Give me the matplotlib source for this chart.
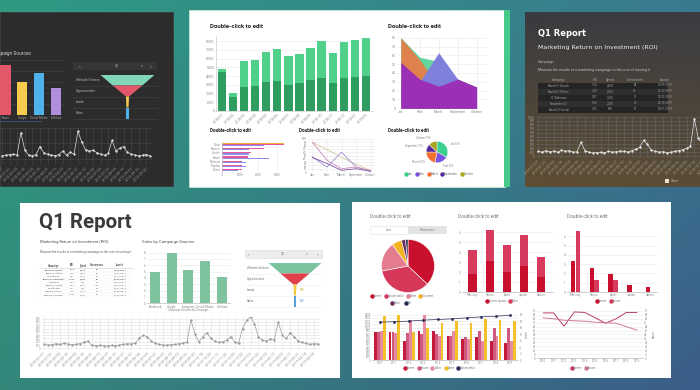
import matplotlib
matplotlib.use("Agg")
import matplotlib.pyplot as plt
from matplotlib.colors import to_rgb
from matplotlib.patches import Rectangle
import numpy as np
import pandas as pd

plt.rcParams["font.family"] = ["Roboto", "DejaVu Sans"]

W, H = 700, 390

# ---- top-left dark dashboard ----
dark_sources = ["Email", "Google", "Social Media", "Affiliate"]
dark_source_sales = [9.1, 6.0, 7.6, 4.9]
funnel_stages = ["Website Visitors", "Opportunities", "Leads", "Sales"]
funnel_counts = [16000, 8600, 900, 600]
dark_visits = [10, 12, 14, 15, 12, 85, 30, 12, 10, 14, 40, 20, 15, 12, 10, 14, 25, 12, 22, 15,
               90, 55, 30, 25, 28, 20, 15, 12, 18, 60, 25, 35, 40, 22, 15, 12, 10, 12, 14, 10]

# ---- top-centre green dashboard ----
rev_months = ["2018-01", "2018-02", "2018-03", "2018-04", "2018-05", "2018-06", "2018-07",
              "2018-08", "2018-09", "2018-10", "2018-11", "2018-12", "2019-01", "2019-02"]
rev_total = [4850, 2080, 5770, 5880, 6800, 7150, 6340, 6580, 7270, 8070, 6690, 7960, 8190, 8420]
rev_base = [4500, 1620, 2770, 2880, 3350, 3460, 3000, 3230, 3580, 3810, 3230, 3810, 3920, 4040]
area_months = ["Jan", "Febr", "March", "September", "October"]
area_green = [80, 58, 53, 33, 24]
area_orange = [80, 55, 25, 33, 24]
area_blue = [30, 30, 63, 33, 24]
area_purple = [52, 33, 25, 33, 24]
hb_cats = ["Total", "Search", "Social", "Email", "Referral", "Display", "Direct"]
hb_orange = [3.4, 0, 0, 0, 0, 0, 0]
hb_pink = [3.4, 2.3, 1.6, 1.4, 1.1, 1.1, 1.1]
hb_blue = [2.3, 1.5, 1.5, 2.6, 1.3, 1.3, 0.9]
ln_months = ["Jan", "Febr", "March", "September", "October"]
ln_tan = [90, 68, 45, 23, 5]
ln_violet = [46, 15, 60, 15, 3]
ln_mauve = [90, 36, 10, 15, 3]
ln_purple = [44, 26, 5, 10, 2]
mini_pie_labels = ["Jan", "Febr", "March", "September", "October"]
mini_pie_share = [33, 20, 22, 12, 13]

# ---- top-right dark report ----
roi_campaigns = ["Brand-Q1-Search", "Brand-Q1-Offline", "Q1-Webinars", "Newsletter-Q1", "Brand-Q1-Social"]
roi_values = ["1.24", "2.35", "0.87", "1.56", "3.02"]
roi_spend = ["4,510", "1,890", "3,200", "2,450", "980"]
roi_conv = ["84", "45", "16", "52", "67"]
roi_launch = ["01/05/2019", "01/12/2019", "02/02/2019", "02/16/2019", "03/01/2019"]
roi_visits = [12, 10, 14, 11, 13, 10, 15, 12, 14, 10, 11, 35, 14, 10, 8, 9, 10, 8, 12, 10, 11, 13,
              12, 10, 14, 18, 22, 40, 30, 15, 12, 10, 11, 9, 10, 12, 14, 16, 20, 25, 95, 45, 30, 22, 20]

# ---- bottom-left white report ----
q1_campaigns = ["Brand-Q1-Search", "Brand-Q1-Offline", "Q1-Webinars", "Brand-Q1-Newsletter", "Q1-Events",
                "Brand-Q1-Digital", "Q1-Affiliates", "Brand-Q1-Social", "Partner-Q1-Display"]
q1_roi = ["1.24", "2.35", "0.87", "18.50", "1.02", "2.64", "3.11", "1.47", "18.20"]
q1_spend = ["4,510", "1,890", "3,200", "2,450", "980", "4,020", "860", "1,730", "2,110"]
q1_conv = ["84", "45", "16", "52", "12", "180", "36", "48", "22"]
q1_launch = ["01/05/2019", "01/12/2019", "01/19/2019", "02/02/2019", "02/09/2019",
             "02/16/2019", "03/01/2019", "03/08/2019", "03/15/2019"]
sales_sources = ["Facebook", "Google", "Instagram", "Social Media", "Affiliate"]
sales_values = [4.9, 7.9, 5.2, 6.6, 4.2]
q1_visits = [12, 10, 11, 14, 12, 15, 13, 11, 12, 14, 18, 22, 10, 8, 9, 8, 7, 9, 8, 10,
             12, 14, 13, 16, 30, 40, 35, 22, 15, 12, 10, 10, 11, 12, 14, 16, 18, 85, 45, 20,
             35, 48, 30, 22, 18, 20, 25, 35, 20, 15, 60, 85, 95, 75, 35, 25, 22, 28, 25, 80,
             40, 30, 48, 35, 22, 18, 15, 12, 14, 13]

# ---- bottom-right red dashboard ----
donut_labels = ["Lorem", "Ipsum dolor", "Amet", "Sit amet", "Dolor", "Elit"]
donut_share = [37, 35, 18, 6, 2.5, 1.5]
stack_cats = ["Mercury", "Venus", "Earth", "Jupiter", "Saturn"]
stack_total = [4.2, 6.3, 4.7, 5.7, 3.5]
stack_base = [1.8, 3.1, 2.0, 2.6, 1.5]
group_cats = ["Mercury", "Venus", "Earth", "Jupiter", "Saturn"]
group_a = [3.3, 2.6, 1.9, 0.8, 0.5]
group_b = [6.6, 1.3, 1.3, 0.0, 0.0]
combo_years = ["2010", "2011", "2012", "2013", "2014", "2015", "2016", "2017", "2018", "2019"]
combo_a = [850, 850, 580, 880, 880, 750, 650, 700, 600, 520]
combo_b = [870, 850, 830, 800, 800, 750, 720, 880, 1000, 980]
combo_c = [900, 830, 1220, 1380, 750, 900, 650, 600, 750, 600]
combo_d = [1350, 1400, 850, 1000, 1150, 1200, 1150, 1280, 1220, 1200]
combo_line = [1170, 1180, 1200, 1230, 1250, 1270, 1300, 1330, 1350, 1380]
trend_years = combo_years
trend_a = [92, 92, 65, 94, 93, 82, 71, 80, 93, 93]
trend_b = [82, 80, 77, 76, 75, 73, 72, 71, 64, 57]

fig = plt.figure(figsize=(7, 3.9), dpi=100)
bg = fig.add_axes([0, 0, 1, 1])
bg.axis("off")
NARROW = ["Liberation Sans Narrow", "DejaVu Sans"]


def gradient(c_tl, c_tr, c_bl, c_br, h, w):
    tl, tr, bl, br = (np.array(to_rgb(c)) for c in (c_tl, c_tr, c_bl, c_br))
    u = np.linspace(0, 1, w)[None, :, None]
    v = np.linspace(0, 1, h)[:, None, None]
    return (tl * (1 - u) + tr * u) * (1 - v) + (bl * (1 - u) + br * u) * v


def sub(x0, y0, x1, y1):
    return fig.add_axes([x0 / W, 1 - y1 / H, (x1 - x0) / W, (y1 - y0) / H])


def style(ax, grid="y", gc="#e8e8e8", tc="#8a8a8a", fs=2.4, base=None):
    ax.set_facecolor("none")
    for s in ax.spines.values():
        s.set_visible(False)
    if base:
        ax.spines["bottom"].set_visible(True)
        ax.spines["bottom"].set_color(base)
        ax.spines["bottom"].set_linewidth(0.5)
    ax.tick_params(length=0, pad=1, labelsize=fs, labelcolor=tc)
    ax.set_axisbelow(True)
    if grid:
        ax.grid(axis=grid, color=gc, lw=0.4)


def txt(x, y, s, fs=2.4, c="#777777", **kw):
    bg.text(x, y, s, fontsize=fs, color=c, va="center", zorder=4, **kw)


def legend_row(x, y, labels, colors, fs=2.3, tc="#777777"):
    for lab, c in zip(labels, colors):
        bg.plot(x, y, "o", ms=2.2, color=c, zorder=4)
        txt(x + 2.2, y, lab, fs, tc)
        x += 6 + len(lab) * fs * 0.72


def funnel(ax, counts, colors):
    half = np.asarray(counts, float) / counts[0] / 2
    nxt = np.append(half[1:], half[-1])
    for i, c in enumerate(colors):
        ax.fill([-half[i], half[i], nxt[i], -nxt[i]], [i, i, i + 1, i + 1], color=c, lw=0)
    ax.set_xlim(-0.5, 0.5)
    ax.set_ylim(len(counts), 0)
    ax.axis("off")


def visits_chart(ax, vals, line_c, grid_c, lab_c, step=2):
    x = np.arange(len(vals))
    dates = pd.date_range("2018-01-07", periods=len(vals), freq="W").strftime("%Y-%m-%d")
    ax.plot(x, vals, color=line_c, lw=0.5, marker="o", ms=0.7)
    ax.set_xticks(x[::step])
    ax.set_xticklabels(dates[::step], rotation=45, ha="right", rotation_mode="anchor",
                       fontsize=2.8, color=lab_c)
    ax.set_xlim(-0.5, len(vals) - 0.5)
    ax.grid(color=grid_c, lw=0.4)


def pie(ax, share, colors, **kw):
    ax.pie(share, colors=colors, startangle=90, counterclock=False, **kw)
    ax.set_xlim(-1.02, 1.02)
    ax.set_ylim(-1.02, 1.02)
    ax.set_aspect("equal")


# background
bg.imshow(gradient("#2f9a82", "#3a7a90", "#33887a", "#3b5e88", 60, 120),
          extent=[0, W, H, 0], aspect="auto", zorder=0)

# ================= panel A: dark dashboard (top-left) =================
bg.add_patch(Rectangle((0, 12), 173, 174, fc="#2c2c2c", ec="#3a3a3a", lw=0.6, zorder=1))
txt(31, 53, "Sales by Campaign Sources", 3.4, "#cfcfcf", ha="right")
ax = sub(-3, 60, 64.2, 115)
xa = np.arange(len(dark_sources))
ax.bar(xa, dark_source_sales, width=0.62, color=["#e4566a", "#f6cc4e", "#4db3ea", "#b28fdc"])
ax.set_xlim(-0.5, 3.5)
ax.set_ylim(0, 10)
ax.set_yticks(range(0, 11, 2))
ax.set_yticklabels([])
ax.set_xticks(xa)
ax.set_xticklabels(dark_sources)
style(ax, gc="#464646", tc="#9a9a9a", fs=2.2)
bg.add_patch(Rectangle((0, 121), 42, 1.2, fc="#3e4f7a", zorder=2))

bg.add_patch(Rectangle((73, 62), 84, 8, fc="#363636", zorder=2))
for xx, s in zip([80, 117, 142, 151], ["<", "Q1", "v", ">"]):
    txt(xx, 66, s, 2.4, "#bbbbbb", ha="center")
for i, s in enumerate(funnel_stages):
    txt(76, 80 + 11 * i, s, 2.3, "#b5b5b5")
    bg.plot([73, 157], [85.5 + 11 * i] * 2, color="#444444", lw=0.4, zorder=2)
ax = sub(100, 74.5, 155, 118.5)
funnel(ax, funnel_counts, ["#80d6b6", "#e4566a", "#f6cc4e", "#4db3ea"])
txt(127.5, 79, f"{funnel_counts[0]}", 2.2, "#2c2c2c", ha="center")

ax = sub(0, 128, 152, 165)
visits_chart(ax, dark_visits, "#dddddd", "#4a4a4a", "#8f8f8f")
ax.set_ylim(-20, 100)
style(ax, grid=None, tc="#8f8f8f", fs=2.8)
ax.grid(color="#4a4a4a", lw=0.4)
ax.set_yticklabels([])

# ================= panel B: green dashboard (top-centre) =================
bg.add_patch(Rectangle((189, 10), 316, 177, fc="white", ec="#bfe8d4", lw=0.6, zorder=1))
bg.add_patch(Rectangle((504, 10), 6, 177, fc="#47c98a", zorder=1))

txt(210, 27, "Double-click to edit", 4.3, "#222222", fontweight="bold")
ax = sub(216, 36, 373, 111)
xb = np.arange(len(rev_total))
ax.bar(xb, rev_base, width=0.75, color="#2f9d5f")
ax.bar(xb, np.subtract(rev_total, rev_base), bottom=rev_base, width=0.75, color="#4fd08b")
ax.set_xlim(-0.52, 13.63)
ax.set_ylim(0, 8600)
ax.set_yticks(range(0, 8001, 1000))
ax.set_xticks(xb)
ax.set_xticklabels(rev_months, rotation=45, ha="right", rotation_mode="anchor")
style(ax, fs=2.6, base="#cccccc")
ax.spines["left"].set_visible(True)
ax.spines["left"].set_color("#cccccc")
ax.spines["left"].set_linewidth(0.5)

txt(388, 26, "Double-click to edit", 4.3, "#222222", fontweight="bold")
ax = sub(397, 37.7, 487, 108.3)
xs = np.arange(len(area_months))
for vals, c in [(area_green, "#62d69d"), (area_orange, "#e0824e"),
                (area_blue, "#7f80dc"), (area_purple, "#9b2fb5")]:
    ax.fill_between(xs, vals, color=c, lw=0)
ax.set_xlim(-0.2, 4.55)
ax.set_ylim(0, 80)
ax.set_yticks(range(0, 81, 10))
ax.set_xticks(xs)
ax.set_xticklabels(area_months)
style(ax, grid="both", fs=2.4)

txt(210, 131, "Double-click to edit", 3.4, "#222222", fontweight="bold")
ax = sub(222, 142, 284, 172)
yh = np.arange(len(hb_cats))
ax.barh(yh - 0.28, hb_orange, height=0.26, color="#f3a93b")
ax.barh(yh, hb_pink, height=0.26, color="#e2569c")
ax.barh(yh + 0.28, hb_blue, height=0.26, color="#8d8ee6")
ax.set_ylim(6.6, -0.6)
ax.set_xlim(0, 3.4)
ax.set_yticks(yh)
ax.set_yticklabels(hb_cats)
ax.set_xticks(range(4))
ax.set_xticklabels(["0", "1000", "2000", "3000"])
style(ax, grid="x", fs=2.2)
ax.spines["left"].set_visible(True)
ax.spines["left"].set_color("#bbbbbb")
ax.spines["left"].set_linewidth(0.5)

txt(299, 131, "Double-click to edit", 3.4, "#222222", fontweight="bold")
ax = sub(308, 139, 375, 172)
xl = np.arange(len(ln_months))
for vals, c in [(ln_tan, "#d9c3a0"), (ln_violet, "#9d8fd9"), (ln_mauve, "#c98bb8"), (ln_purple, "#7c4fa8")]:
    ax.plot(xl, vals, color=c, lw=0.6)
ax.set_xlim(-0.3, 4.3)
ax.set_ylim(0, 100)
ax.set_yticks(range(0, 101, 10))
ax.set_xticks(xl)
ax.set_xticklabels(ln_months)
style(ax, grid="both", fs=2.2)

txt(388, 131, "Double-click to edit", 3.4, "#222222", fontweight="bold")
pie_cols = ["#3ccf8e", "#7a52e0", "#f07030", "#55279c", "#a9a322"]
ax = sub(426, 141, 448, 163)
pie(ax, mini_pie_share, pie_cols,
    labels=[f"{l} {v}%" for l, v in zip(mini_pie_labels, mini_pie_share)],
    labeldistance=1.4, textprops=dict(fontsize=1.9, color="#888888"),
    wedgeprops=dict(lw=0.3, edgecolor="white"))
legend_row(406, 174, mini_pie_labels, pie_cols, fs=2.1)

# ================= panel C: dark report (top-right) =================
bg.imshow(gradient("#3a3b40", "#3c3c42", "#5e4e34", "#5a4c36", 40, 10),
          extent=[525, 712, 187, 12], aspect="auto", zorder=1)
txt(538, 33, "Q1 Report", 6.0, "white", family=NARROW, fontweight="bold")
txt(538, 48, "Marketing Return on Investment (ROI)", 4.5, "#eeeeee", family=NARROW)
txt(538, 62, "Campaign", 2.6, "#bdbdbd")
txt(538, 70, "Measure the results of a marketing campaign vs the cost of running it", 2.6, "#bdbdbd")
cols_c = [559, 595, 610, 635, 665]
for xx, s in zip(cols_c, ["Campaign", "ROI", "Spend", "Conversions", "Launch"]):
    txt(xx, 80, s, 2.2, "#aaaaaa", ha="center")
for i, row in enumerate(zip(roi_campaigns, roi_values, roi_spend, roi_conv, roi_launch)):
    yy = 85.5 + 6 * i
    bg.add_patch(Rectangle((538, yy - 3), 130, 6, fc="#242424" if i % 2 == 0 else "#2e2e2e", zorder=2))
    for xx, s in zip(cols_c, row):
        txt(xx, yy, s, 2.1, "#9a9a9a", ha="center")
ax = sub(536, 117, 712, 158)
visits_chart(ax, roi_visits, "#e6e6e6", "#666666", "#a09a8c")
ax.set_ylim(-5, 100)
ax.set_yticks(range(0, 101, 10))
ax.set_yticklabels([f"{v * 10:,}" for v in range(0, 101, 10)])
style(ax, grid=None, tc="#a0a0a0", fs=2.2)
ax.grid(color="#666666", lw=0.4)
ax.tick_params(axis="x", labelsize=2.8, labelcolor="#a09a8c")
bg.add_patch(Rectangle((665, 179), 4, 4, fc="#e8e0d0", zorder=3))
txt(671, 181, "Share", 2.2, "#bcb4a4")

# ================= panel D: white report (bottom-left) =================
bg.add_patch(Rectangle((20, 203), 320, 175, fc="white", zorder=1))
txt(39, 222, "Q1 Report", 14.8, "#3a3a3a", fontweight="bold")
txt(40, 242, "Marketing Return on Investment (ROI)", 3.0, "#555555")
txt(40, 252, "Measure the results of a marketing campaign vs the cost of running it", 2.1, "#666666")
cols_d = [54, 72, 83, 97, 120]
for xx, s in zip(cols_d, ["Campaign", "ROI", "Spend", "Conversions", "Launch"]):
    txt(xx, 265.5, s, 1.8, "#555555", ha="center", fontweight="bold")
bg.plot([40, 133], [267.5, 267.5], color="#cccccc", lw=0.4, zorder=3)
for i, row in enumerate(zip(q1_campaigns, q1_roi, q1_spend, q1_conv, q1_launch)):
    yy = 270 + 3.1 * i
    for xx, s in zip(cols_d, row):
        txt(xx, yy, s, 1.7, "#666666", ha="center", fontweight="bold" if i in (0, 3) else "normal")
    bg.plot([40, 133], [yy + 1.55] * 2, color="#eeeeee", lw=0.3, zorder=3)

txt(142, 242, "Sales by Campaign Sources", 3.1, "#555555")
ax = sub(146.7, 250, 230.2, 303.3)
xd = np.arange(len(sales_sources))
ax.bar(xd, sales_values, width=0.6, color="#7fc29e")
ax.set_xlim(-0.5, 4.5)
ax.set_ylim(0, 8.4)
ax.set_yticks(range(0, 9))
ax.set_xticks(xd)
ax.set_xticklabels(sales_sources)
style(ax, fs=2.2, base="#bbbbbb")
txt(188, 310, "Campaign Sources by Campaign", 2.0, "#888888", ha="center")

bg.add_patch(Rectangle((245, 250), 77, 8, fc="#ededed", ec="#dddddd", lw=0.4, zorder=2))
for xx, s in zip([249, 283, 307, 318], ["<", "Q1", "v", ">"]):
    txt(xx, 254, s, 2.3, "#777777", ha="center")
for i, s in enumerate(funnel_stages):
    txt(247, 268 + 11 * i, s, 2.2, "#777777")
    bg.plot([245, 322], [273.5 + 11 * i] * 2, color="#eeeeee", lw=0.4, zorder=2)
ax = sub(268, 262.5, 322, 306.5)
funnel(ax, funnel_counts, ["#7cc4a0", "#e0404a", "#f5c842", "#5aa0e0"])
txt(295, 267, f"{funnel_counts[0]}", 2.2, "#2f6b4f", ha="center")
txt(300, 290, f"{funnel_counts[2]}", 2.0, "#d8b040")
txt(300, 301, f"{funnel_counts[3]}", 2.0, "#5a90d0")

ax = sub(42, 317, 320, 350)
visits_chart(ax, q1_visits, "#9a9a9a", "#e2e2e2", "#9a9a9a")
ax.set_ylim(-5, 95)
ax.set_yticks(range(0, 96, 10))
ax.set_yticklabels([f"{v * 10:,}" for v in range(0, 96, 10)])
style(ax, grid=None, tc="#999999", fs=2.0)
ax.grid(color="#e2e2e2", lw=0.4)
ax.tick_params(axis="x", labelsize=2.8)

# ================= panel E: red dashboard (bottom-right) =================
bg.add_patch(Rectangle((352, 202), 319, 176, fc="white", zorder=1))
red_cols = ["#c8102e", "#d6385a", "#e27c8e", "#f2b31c", "#6a2a58", "#1f2f4f"]

txt(370, 217, "Double-click to edit", 3.4, "#777777")
bg.add_patch(Rectangle((370, 226), 38, 8, fc="white", ec="#e2e2e2", lw=0.4, zorder=2))
bg.add_patch(Rectangle((408, 226), 39, 8, fc="#e4e4e4", zorder=2))
txt(389, 230, "Line", 2.3, "#777777", ha="center")
txt(427.5, 230, "Dimension", 2.3, "#777777", ha="center")
ax = sub(381, 239, 435, 293)
pie(ax, donut_share, red_cols, wedgeprops=dict(lw=0.4, edgecolor="white"))
legend_row(372, 296, donut_labels[:4], red_cols[:4], fs=2.1)
legend_row(392, 303, donut_labels[4:], red_cols[4:], fs=2.1)

txt(458, 217, "Double-click to edit", 3.4, "#777777")
ax = sub(462, 230, 553, 292)
xe = np.arange(len(stack_cats))
ax.bar(xe, stack_base, width=0.5, color="#c8102e")
ax.bar(xe, np.subtract(stack_total, stack_base), bottom=stack_base, width=0.5, color="#d63a5c")
ax.set_xlim(-0.63, 4.7)
ax.set_ylim(0, 6.2)
ax.set_yticks(range(0, 7))
ax.set_xticks(xe)
ax.set_xticklabels(stack_cats)
style(ax, fs=2.2, base="#bbbbbb")
legend_row(487, 301, ["Lorem ipsum", "Dolor"], ["#c8102e", "#d63a5c"], fs=2.1)

txt(567, 217, "Double-click to edit", 3.4, "#777777")
ax = sub(567, 230, 657, 292)
xg = np.arange(len(group_cats))
ax.bar(xg - 0.13, group_a, width=0.24, color="#c8102e")
ax.bar(xg + 0.13, group_b, width=0.24, color="#d63a5c")
ax.set_xlim(-0.45, 4.35)
ax.set_ylim(0, 6.7)
ax.set_yticks(range(0, 7))
ax.set_xticks(xg)
ax.set_xticklabels(group_cats)
style(ax, fs=2.2, base="#bbbbbb")
legend_row(597, 301, ["Lorem", "Ipsum"], ["#c8102e", "#d63a5c"], fs=2.1)

ax = sub(372, 313, 518, 360)
xc = np.arange(len(combo_years))
for k, (vals, c) in enumerate([(combo_a, "#c41a3b"), (combo_b, "#cf5a7e"),
                               (combo_c, "#e58aa0"), (combo_d, "#f4c02c")]):
    ax.bar(xc + (k - 1.5) * 0.2, vals, width=0.19, color=c)
ax.plot(xc, combo_line, color="#2b2f5a", lw=0.5, marker="o", ms=1.0)
ax.set_xlim(-0.55, 9.55)
ax.set_ylim(0, 1450)
ax.set_yticks(range(0, 1401, 100))
ax.set_xticks(xc)
ax.set_xticklabels(combo_years)
style(ax, fs=2.0, base="#bbbbbb")
ax2 = ax.twinx()
ax2.set_ylim(0, 14.5)
ax2.set_yticks(range(0, 15, 2))
style(ax2, grid=None, fs=2.0)
legend_row(405, 368, ["Lorem", "Ipsum", "Dolor", "Amet", "Consectetur"],
           ["#c41a3b", "#cf5a7e", "#e58aa0", "#f4c02c", "#2b2f5a"], fs=2.1)

ax = sub(537, 309, 643, 358)
xt = np.arange(len(trend_years))
ax.plot(xt, trend_a, color="#bb3e62", lw=0.7)
ax.plot(xt, trend_b, color="#d27a94", lw=0.7)
ax.set_xlim(-0.6, 9.6)
ax.set_ylim(0, 100)
ax.set_yticks(range(0, 101, 8))
ax.set_xticks(xt)
ax.set_xticklabels(trend_years)
style(ax, fs=2.0, base="#bbbbbb")
ax3 = ax.twinx()
ax3.set_ylim(0, 100)
ax3.set_yticks(range(0, 101, 8))
style(ax3, grid=None, fs=2.0)
txt(527, 334, "Lorem", 2.0, "#888888", rotation=90, ha="center")
txt(654, 334, "Ipsum", 2.0, "#888888", rotation=90, ha="center")
legend_row(572, 368, ["Lorem", "Ipsum"], ["#bb3e62", "#d27a94"], fs=2.1)

bg.set_xlim(0, W)
bg.set_ylim(H, 0)
fig.savefig("out.png", dpi=100)
